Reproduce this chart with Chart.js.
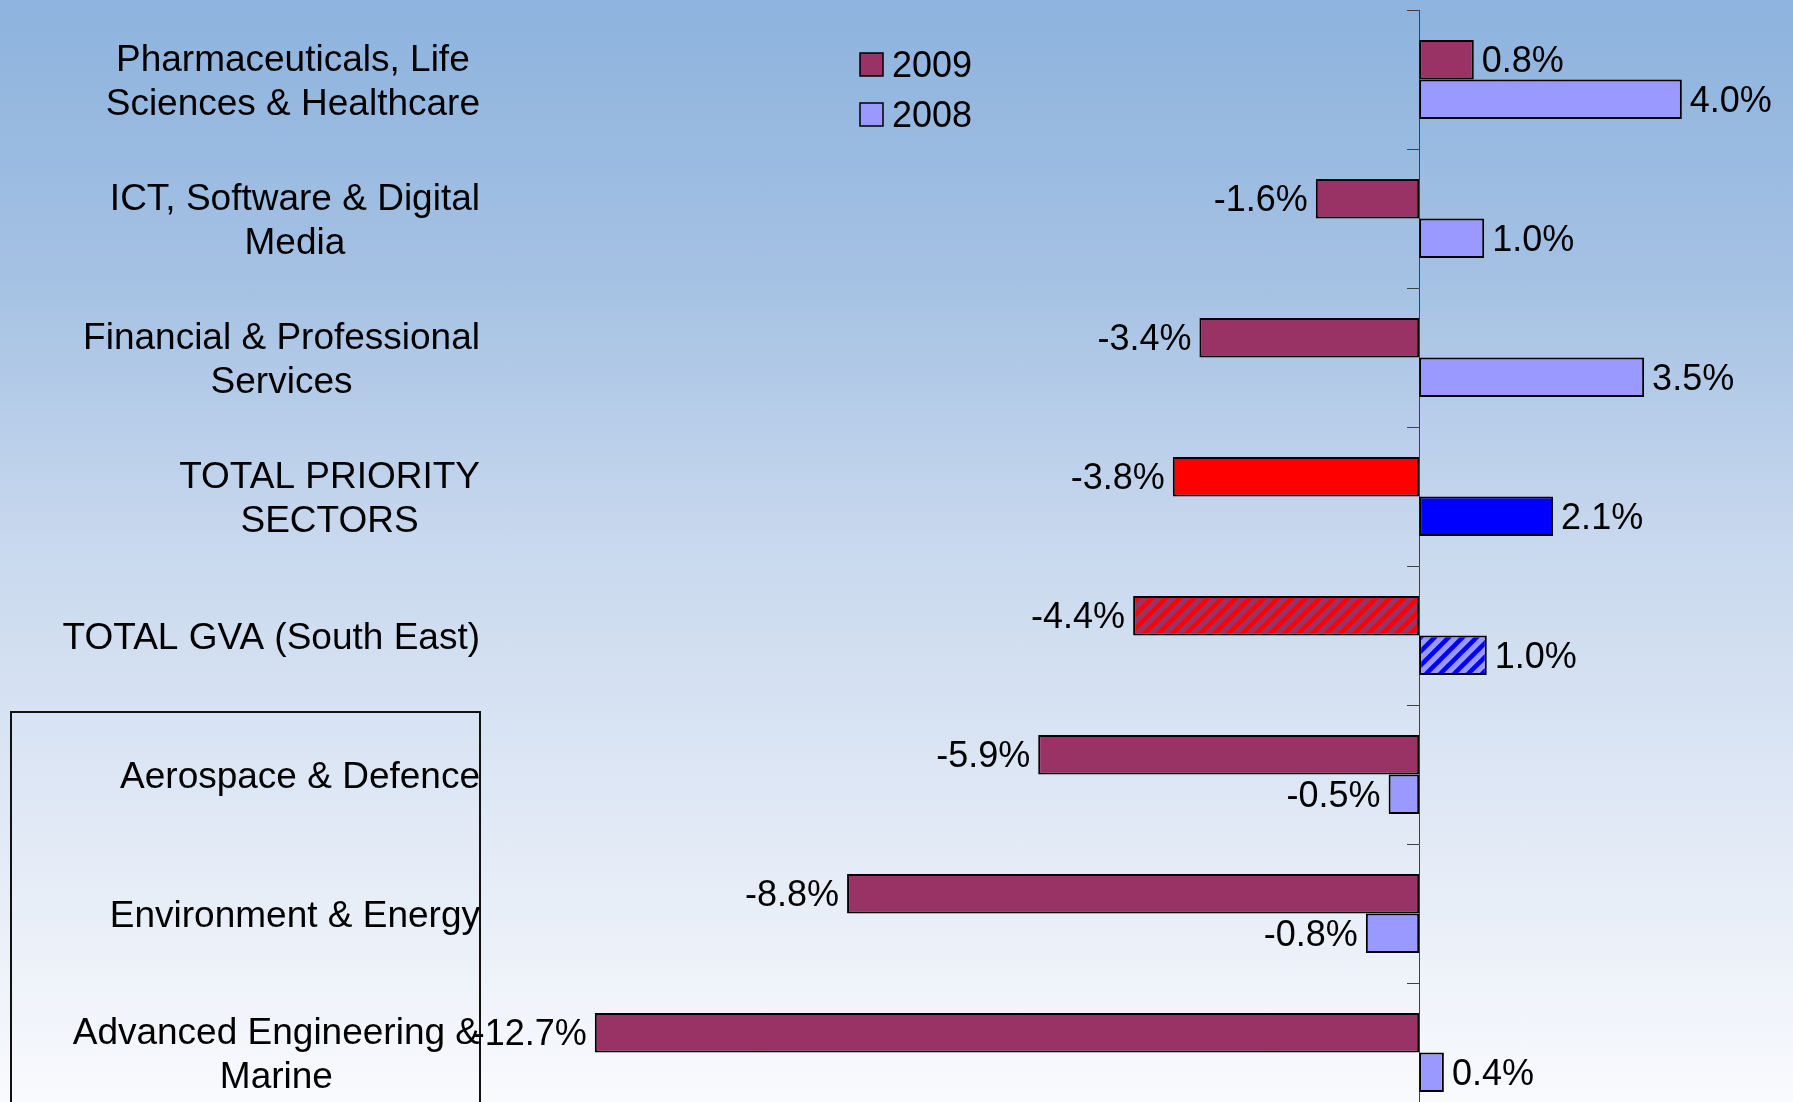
<!DOCTYPE html>
<html>
<head>
<meta charset="utf-8">
<script src="https://cdn.jsdelivr.net/npm/chart.js@4/dist/chart.umd.min.js"></script>
<style>
  html, body { margin: 0; padding: 0; width: 1793px; height: 1102px; overflow: hidden; }
  html { background: linear-gradient(to bottom, #8DB3DE 0%, #A4C1E3 25%, #C8D8EE 49%, #F9FAFD 100%); }
  canvas { display: block; }
</style>
</head>
<body>
<canvas id="c" width="1793" height="1130"></canvas>
<script>
const categories = [
  ["Pharmaceuticals, Life", "Sciences & Healthcare"],
  ["ICT, Software & Digital", "Media"],
  ["Financial & Professional", "Services"],
  ["TOTAL PRIORITY", "SECTORS"],
  "TOTAL GVA (South East)",
  "Aerospace & Defence",
  "Environment & Energy",
  ["Advanced Engineering &", "Marine"]
];
const seriesNames = ["2009", "2008"];
const values2009 = [0.84, -1.59, -3.38, -3.79, -4.40, -5.86, -8.80, -12.68];
const values2008 = [4.04, 1.00, 3.46, 2.06, 1.04, -0.47, -0.82, 0.38];

// colour/style tables (not data)
const base2009 = "#993366", base2008 = "#9999FF";
const prio2009 = "#FF0000", prio2008 = "#0000FF";

function hatch(bg, fg) {
  const s = 14;
  const c = document.createElement("canvas");
  c.width = s; c.height = s;
  const x = c.getContext("2d");
  x.fillStyle = bg; x.fillRect(0, 0, s, s);
  x.strokeStyle = fg; x.lineWidth = 4.5;
  x.beginPath();
  x.moveTo(-2, s + 2); x.lineTo(s + 2, -2);
  x.moveTo(-s / 2 - 2, s / 2 + 2); x.lineTo(s / 2 + 2, -s / 2 - 2);
  x.moveTo(s / 2 - 2, s * 1.5 + 2); x.lineTo(s * 1.5 + 2, s / 2 - 2);
  x.stroke();
  return x.createPattern(c, "repeat");
}
const ctx = document.getElementById("c").getContext("2d");
const colors2009 = categories.map((_, i) => i === 3 ? prio2009 : (i === 4 ? hatch(base2009, prio2009) : base2009));
const colors2008 = categories.map((_, i) => i === 3 ? prio2008 : (i === 4 ? hatch(base2008, prio2008) : base2008));

const FONT = "'Liberation Sans', Arial, sans-serif";

const labelPlugin = {
  id: "customText",
  afterDatasetsDraw(chart) {
    const c = chart.ctx;
    const ys = chart.scales.y;
    c.save();
    // category labels
    c.fillStyle = "#000";
    c.font = "37px " + FONT;
    c.textAlign = "center";
    c.textBaseline = "middle";
    const rightEdge = 480;
    const lh = 44.5;
    chart.data.labels.forEach((lab, i) => {
      const lines = Array.isArray(lab) ? lab : [lab];
      const w = Math.max(...lines.map(l => c.measureText(l).width));
      const cx = rightEdge - w / 2;
      const cy = ys.getPixelForValue(i) + 3.5;
      lines.forEach((l, k) => {
        c.fillText(l, cx, cy + (k - (lines.length - 1) / 2) * lh);
      });
    });
    // box around last three categories
    c.strokeStyle = "#111";
    c.lineWidth = 2;
    const topY = (ys.getPixelForValue(4) + ys.getPixelForValue(5)) / 2 + 7;
    c.strokeRect(11, topY, 469, 600);
    // data labels
    c.font = "36px " + FONT;
    chart.data.datasets.forEach((ds, di) => {
      const meta = chart.getDatasetMeta(di);
      meta.data.forEach((bar, j) => {
        const v = ds.data[j];
        const txt = v.toFixed(1) + "%";
        if (v >= 0) { c.textAlign = "left"; c.fillText(txt, bar.x + 8, bar.y + 2.5); }
        else { c.textAlign = "right"; c.fillText(txt, bar.x - 8, bar.y + 2.5); }
      });
    });
    // legend
    c.textAlign = "left";
    const legendX = 860, legendY = [53, 103];
    chart.data.datasets.forEach((ds, di) => {
      c.fillStyle = ds.legendColor;
      c.fillRect(legendX, legendY[di], 23, 23);
      c.strokeStyle = "#000";
      c.lineWidth = 1.5;
      c.strokeRect(legendX, legendY[di], 23, 23);
      c.fillStyle = "#000";
      c.fillText(ds.label, legendX + 32, legendY[di] + 14.5);
    });
    c.restore();
  }
};

new Chart(ctx, {
  type: "bar",
  data: {
    labels: categories,
    datasets: [
      { label: seriesNames[0], data: values2009, backgroundColor: colors2009, legendColor: base2009,
        borderColor: "#000", borderWidth: 2, borderSkipped: false },
      { label: seriesNames[1], data: values2008, backgroundColor: colors2008, legendColor: base2008,
        borderColor: "#000", borderWidth: 2, borderSkipped: false }
    ]
  },
  options: {
    indexAxis: "y",
    responsive: false,
    animation: false,
    events: [],
    categoryPercentage: 0.568,
    barPercentage: 1.0,
    layout: { padding: { left: 509, right: 0, top: 10, bottom: 8 } },
    plugins: { legend: { display: false }, tooltip: { enabled: false } },
    scales: {
      x: { type: "linear", min: -14, max: 5.75, display: false },
      y: {
        type: "category",
        position: { x: 0 },
        offset: true,
        afterFit(s) { s.width = 0; },
        grid: { offset: true, drawOnChartArea: false, drawTicks: true, tickLength: 12, color: "#404040", lineWidth: 1 },
        border: { display: true, color: "#404040", width: 1 },
        ticks: { display: false }
      }
    }
  },
  plugins: [labelPlugin]
});
</script>
</body>
</html>
